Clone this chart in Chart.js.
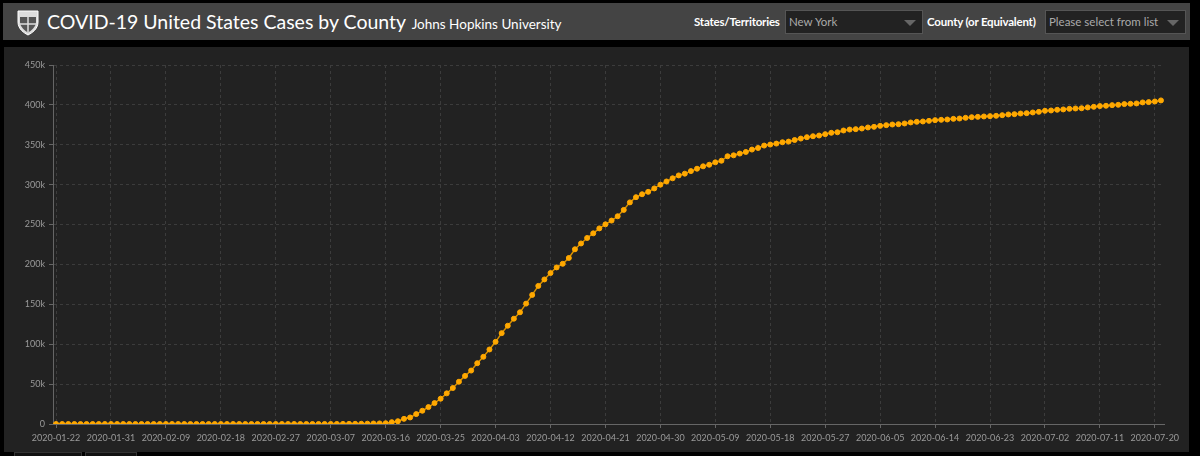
<!DOCTYPE html>
<html>
<head>
<meta charset="utf-8">
<script src="https://cdn.jsdelivr.net/npm/chart.js@4.4.0/dist/chart.umd.min.js"></script>
<style>
  html, body { margin: 0; padding: 0; background: #000; width: 1200px; height: 456px; overflow: hidden; font-family: Lato, "Open Sans", sans-serif; }
  #header { position: absolute; left: 3px; top: 3px; width: 1187px; height: 37px; background: #444; }
  #logo { position: absolute; left: 13px; top: 6px; }
  #title { position: absolute; left: 44px; top: 7px; color: #fff; font-size: 19.5px; white-space: nowrap; }
  #title small { font-size: 13.5px; margin-left: 1px; }
  .lbl { position: absolute; top: 12px; color: #fff; font-size: 11.5px; font-weight: bold; white-space: nowrap; letter-spacing: -0.2px; }
  .sel { position: absolute; top: 7px; height: 24px; background: #222; border: 1px solid #555; color: #aaa; font-size: 11.5px; line-height: 22px; padding-left: 3px; box-sizing: border-box; white-space: nowrap; }
  .sel span.caret { position: absolute; right: 6px; top: 9px; width: 0; height: 0; border-left: 6px solid transparent; border-right: 6px solid transparent; border-top: 6px solid #666; }
  #panel { position: absolute; left: 4px; top: 47px; width: 1185px; height: 405px; background: #222; }
  .tab { position: absolute; top: 452px; height: 10px; background: #111; border: 1px solid #333; }
</style>
</head>
<body>
<div id="header">
  <svg id="logo" width="24" height="27" viewBox="0 0 24 27">
    <path d="M2 2 L22 2 L22 13 C22 20 16 24 12 26 C8 24 2 20 2 13 Z" fill="#ddd" stroke="#fff" stroke-width="1"/>
    <path d="M4 8 L20 8 L20 13 C20 18 15 22 12 23.5 C9 22 4 18 4 13 Z" fill="#555"/>
    <path d="M12 8 L12 23.5 M4 15 L20 15" stroke="#ddd" stroke-width="1.5"/>
  </svg>
  <div id="title">COVID-19 United States Cases by County <small>Johns Hopkins University</small></div>
  <div class="lbl" style="left:691px">States/Territories</div>
  <div class="sel" style="left:782px; width:138px">New York<span class="caret"></span></div>
  <div class="lbl" style="left:924px">County (or Equivalent)</div>
  <div class="sel" style="left:1042px; width:141px">Please select from list<span class="caret"></span></div>
</div>
<div id="panel"><canvas id="chart" width="1185" height="405"></canvas></div>
<div class="tab" style="left:14px; width:66px"></div>
<div class="tab" style="left:85px; width:50px"></div>

<script>
// Daily cumulative cases, New York
const startDate = "2020-01-22";
const janFebCases = new Array(39).fill(0); // 2020-01-22 .. 2020-02-29
const marchCases = [1, 1, 2, 11, 22, 44, 89, 106, 142, 173, 220, 330, 420, 610, 730, 960,
    2300, 3500, 6500, 8200, 12400, 16600, 21200, 26200, 31700, 38400, 45100, 53000, 60300, 67000, 76200];
const aprilCases = [84200, 93400, 103000, 113900, 123200, 132000, 140000, 150900, 161800, 173100,
    181200, 189200, 196300, 200800, 208100, 219000, 226300, 233200, 239000, 245200,
    250300, 255000, 260400, 268400, 277800, 284300, 288000, 291000, 295300, 300000];
const mayCases = [304000, 308000, 311600, 313800, 317000, 320000, 323000, 325000, 328000, 330000,
    335600, 336800, 339000, 341000, 344000, 346000, 349000, 350300, 351500, 353200,
    354000, 356000, 357800, 359500, 360700, 361600, 363300, 365000, 365700, 367900, 369100];
const juneCases = [369600, 370400, 371700, 372500, 373700, 374600, 375400, 375800, 376700, 378000,
    378800, 379200, 380000, 380900, 381300, 381700, 382500, 382900, 383800, 384600,
    385000, 385500, 385900, 386300, 387100, 388000, 388400, 389200, 389600, 390500];
const julyCases = [391300, 392600, 393000, 393900, 394300, 395100, 395500, 395800, 396800, 397600,
    398500, 398900, 399700, 400100, 401000, 401400, 401800, 403100, 403500, 404300, 405600];

const yTicks = [0, 50000, 100000, 150000, 200000, 250000, 300000, 350000, 400000, 450000];

const cases = [].concat(janFebCases, marchCases, aprilCases, mayCases, juneCases, julyCases);

// one label per day
let dates = [];
let d = new Date(startDate + "T00:00:00Z");
for (let i = 0; i < cases.length; i++) {
    dates.push(d.toISOString().slice(0, 10));
    d.setUTCDate(d.getUTCDate() + 1);
}

const gridColor = "#3c3c3c";
const axisColor = "#666";
const labelColor = "#9a9a9a";
const tickFont = { family: "Lato", size: 9 };

new Chart(document.getElementById("chart").getContext("2d"), {
    type: "line",
    data: {
        labels: dates,
        datasets: [{
            data: cases,
            borderColor: "#d99200",
            borderWidth: 1.5,
            pointRadius: 2.5,
            pointBorderWidth: 1,
            pointBackgroundColor: "#ffa800",
            pointBorderColor: "#ffa800",
            tension: 0,
        }]
    },
    options: {
        responsive: false,
        animation: false,
        layout: { padding: { top: 18, right: 25, left: 0, bottom: 0 } },
        plugins: { legend: { display: false }, tooltip: { enabled: false } },
        scales: {
            x: {
                offset: true,
                grid: {
                    color: ctx => ctx.index % 9 === 0 ? gridColor : "transparent",
                    tickColor: ctx => ctx.index % 9 === 0 ? axisColor : "transparent",
                    tickLength: 4,
                    offset: false,
                },
                border: { color: axisColor, width: 1, dash: [3, 3] },
                ticks: {
                    autoSkip: false,
                    maxRotation: 0,
                    color: labelColor,
                    font: tickFont,
                    padding: 5,
                    callback: (v, i) => i % 9 === 0 ? dates[i] : "",
                },
                afterFit: s => { s.height = 28; },
            },
            y: {
                min: 0,
                max: 450000,
                afterBuildTicks: s => { s.ticks = yTicks.map(v => ({ value: v })); },
                grid: { color: gridColor, tickColor: axisColor, tickLength: 4 },
                border: { color: axisColor, width: 1, dash: [3, 3] },
                ticks: {
                    color: labelColor,
                    font: tickFont,
                    padding: 4,
                    callback: v => v === 0 ? "0" : (v / 1000) + "k",
                },
                afterFit: s => { s.width = 49; },
            }
        }
    }
});
</script>
</body>
</html>
